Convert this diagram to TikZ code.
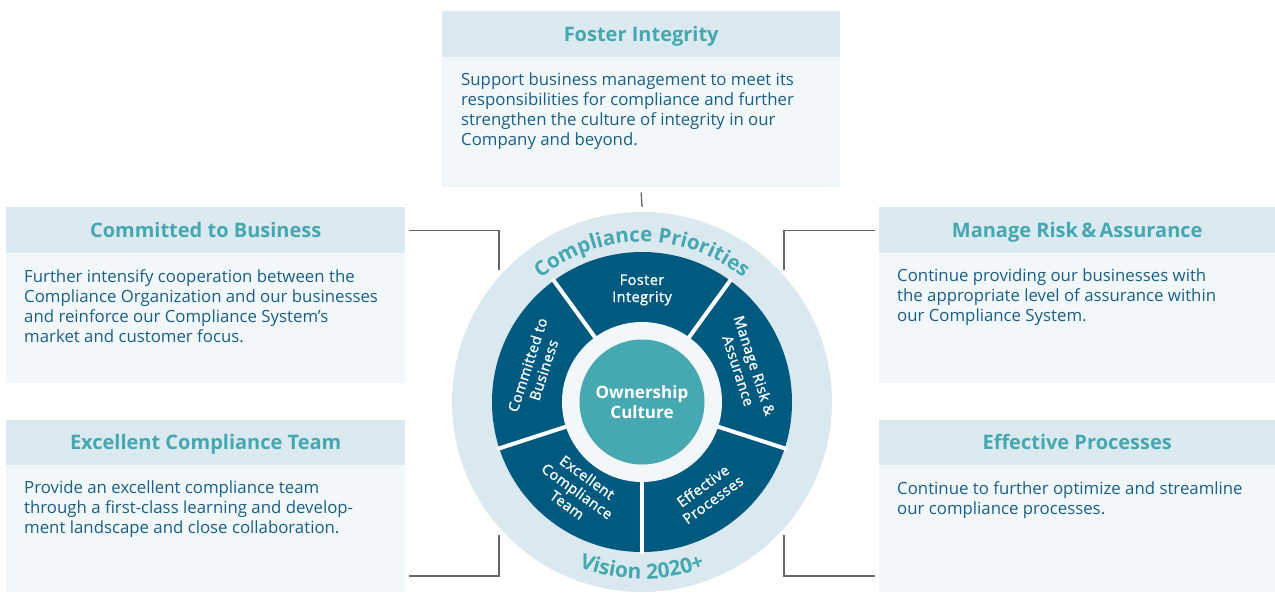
\documentclass[tikz,border=0pt]{standalone}
\usepackage{fontspec}
\setmainfont{Open Sans}
\newfontfamily\segfont[FakeBold=1.2,LetterSpace=3]{Open Sans}
\usetikzlibrary{decorations.text}
\definecolor{dark}{HTML}{005A80}
\definecolor{teal}{HTML}{46A8B0}
\definecolor{ring}{HTML}{DAE8EF}
\definecolor{hdrfill}{HTML}{DBE9F0}
\definecolor{bodyfill}{HTML}{F2F7FA}
\definecolor{bodytext}{HTML}{1A5F87}
\definecolor{hdrtext}{HTML}{45A8B0}
\definecolor{conn}{HTML}{666666}
\begin{document}
\begin{tikzpicture}[x=1pt,y=1pt,
  hdr/.style={fill=hdrfill, minimum height=46pt, inner sep=0pt, anchor=north west,
    font=\bfseries\fontsize{20}{22}\selectfont, text=hdrtext, text height=14.3pt, text depth=0pt},
  bodybox/.style={fill=bodyfill, inner sep=0pt, anchor=north west},
  bodytxt/.style={anchor=north west, inner sep=0pt, text=bodytext, align=left,
    font=\fontsize{16.8}{20}\selectfont},
  segtxt/.style={text=white, align=center, inner sep=0pt,
    font=\segfont\fontsize{14.5}{17}\selectfont},
  connline/.style={draw=conn, line width=1.3pt}]
\useasboundingbox (0,0) rectangle (1275,-592);

% ---------- boxes ----------
% top
\node[hdr, minimum width=398pt] (fih) at (442,-11) {Foster Integrity};
\node[bodybox, minimum width=398pt, minimum height=130pt] (fib) at (442,-57) {};
\node[bodytxt] (fit) at (461,-73) {Support business management to meet its\\responsibilities for compliance and further\\strengthen the culture of integrity in our\\Company and beyond.};
% left upper
\node[hdr, minimum width=399pt] (cbh) at (6,-207) {Committed to Business};
\node[bodybox, minimum width=399pt, minimum height=130pt] (cbb) at (6,-253) {};
\node[bodytxt] (cbt) at (24,-269) {Further intensify cooperation between the\\Compliance Organization and our businesses\\and reinforce our Compliance System’s\\market and customer focus.};
% right upper
\node[hdr, minimum width=396pt] (mrh) at (879,-207) {Manage Risk\,\&\,Assurance};
\node[bodybox, minimum width=396pt, minimum height=130pt] (mrb) at (879,-253) {};
\node[bodytxt] (mrt) at (897,-269) {Continue providing our businesses with\\the appropriate level of assurance within\\our Compliance System.};
% left lower
\node[hdr, minimum width=399pt, minimum height=45pt] (ech) at (6,-420) {Excellent Compliance Team};
\node[bodybox, minimum width=399pt, minimum height=127pt] (ecb) at (6,-465) {};
\node[bodytxt] (ect) at (24,-481) {Provide an excellent compliance team\\through a first-class learning and develop-\\ment landscape and close collaboration.};
% right lower
\node[hdr, minimum width=396pt, minimum height=45pt] (eph) at (879,-420) {Effective Processes};
\node[bodybox, minimum width=396pt, minimum height=127pt] (epb) at (879,-465) {};
\node[bodytxt] (ept) at (897,-481) {Continue to further optimize and streamline\\our compliance processes.};

% ---------- wheel ----------
\coordinate (c) at (642,-402);
\fill[ring] (c) circle[radius=190];
\fill[dark] (c) circle[radius=150];
\foreach \a in {54,126,198,270,342}
  \draw[white, line width=4pt] ([shift={(\a:75)}]c) -- ([shift={(\a:152)}]c);
\fill[bodyfill] (c) circle[radius=80];
\node[circle, fill=teal, minimum size=125pt, inner sep=0pt, text=white, align=center,
  font=\bfseries\fontsize{17}{20}\selectfont] (oc) at (c) {Ownership\\Culture};

\node[segtxt] (sfi) at ([shift={(90:112)}]c) {Foster\\Integrity};
\node[segtxt, rotate=-72] (smr) at ([shift={(18:110)}]c) {Manage Risk \&\\Assurance};
\node[segtxt, rotate=36] (sep) at ([shift={(-54:112)}]c) {Effective\\Processes};
\node[segtxt, rotate=-36] (sec) at ([shift={(234:110)}]c) {Excellent\\Compliance\\Team};
\node[segtxt, rotate=72] (scb) at ([shift={(162:112)}]c) {Committed to\\Business};

\path[decorate, decoration={text along path, text align=center,
  text={|\bfseries\fontsize{20.5}{20}\selectfont\color{hdrtext}|Compliance Priorities}}]
  ([shift={(160:160)}]c) arc[start angle=160, end angle=20, radius=160];
\path[decorate, decoration={text along path, text align=center,
  text={|\bfseries\fontsize{21}{20}\selectfont\color{hdrtext}|Vision 2020+}}]
  ([shift={(220:177)}]c) arc[start angle=220, end angle=320, radius=177];

% ---------- connectors ----------
\coordinate (lu) at (499,-270);
\coordinate (ll) at (499,-535);
\coordinate (ru) at (784,-270);
\coordinate (rl) at (784,-535);
\coordinate (tp) at (642,-207);
\draw[connline] ([xshift=4pt]cbh.east) -| (lu);
\draw[connline] ([xshift=4pt]ecb.east |- 0,-576) -| (ll);
\draw[connline] ([xshift=-4pt]mrh.west) -| (ru);
\draw[connline] ([xshift=-4pt]epb.west |- 0,-576) -| (rl);
\draw[connline] ([yshift=-5pt]fib.south) -- (tp);
\end{tikzpicture}
\end{document}
